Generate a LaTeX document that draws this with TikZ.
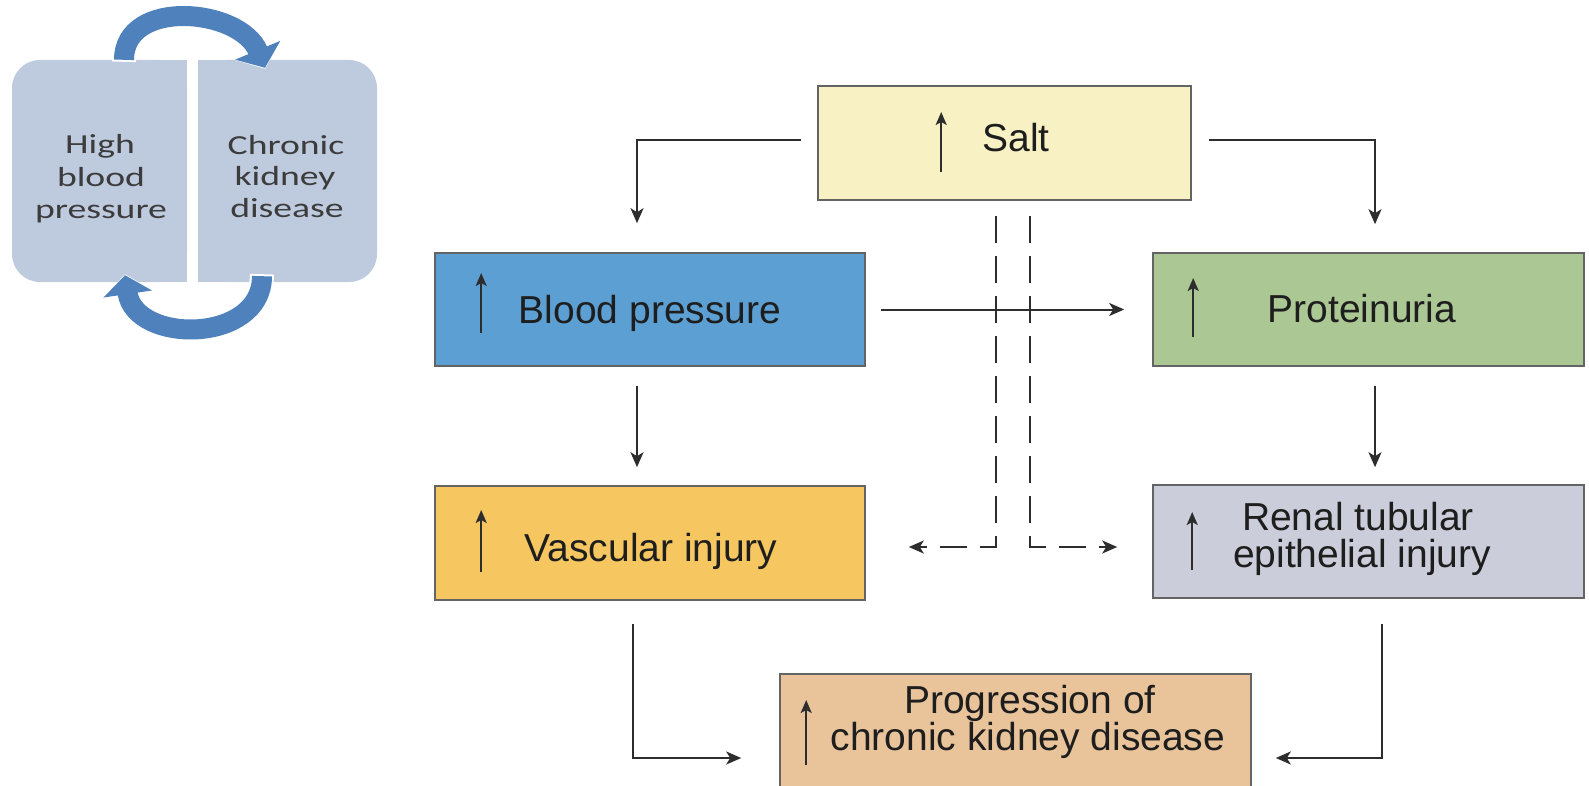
\documentclass[tikz,border=0pt]{standalone}
\usepackage{fontspec}
\setmainfont{Liberation Sans}
\newfontfamily\calfont[FakeStretch=1.37]{Carlito}
\usetikzlibrary{arrows.meta,calc}
\definecolor{saltc}{RGB}{248,241,196}
\definecolor{bpc}{RGB}{92,160,211}
\definecolor{protc}{RGB}{171,200,148}
\definecolor{vascc}{RGB}{246,199,96}
\definecolor{renalc}{RGB}{204,205,218}
\definecolor{progc}{RGB}{233,196,155}
\definecolor{boxline}{RGB}{100,100,100}
\definecolor{connc}{RGB}{45,45,45}
\definecolor{textc}{RGB}{30,30,30}
\definecolor{ckc}{RGB}{190,202,222}
\definecolor{cktext}{RGB}{60,60,60}
\definecolor{cycc}{RGB}{79,129,189}
\begin{document}
\begin{tikzpicture}[x=1pt,y=-1pt,
  box/.style={draw=boxline, line width=1.6pt, rectangle, inner sep=0pt},
  ckbox/.style={fill=ckc, rectangle, rounded corners=28pt, inner sep=0pt},
  conn/.style={draw=connc, line width=2pt, -{Stealth[length=15pt,width=13pt,inset=4pt]}},
  dconn/.style={conn, dash pattern=on 27pt off 13pt},
  upar/.style={draw=connc, line width=2pt, -{Stealth[length=13pt,width=11pt,inset=3pt]}},
  lbl/.style={anchor=base, font=\fontsize{39}{39}\selectfont, text=textc, inner sep=0pt},
  cklbl/.style={anchor=base, font=\calfont\fontsize{27.5}{27.5}\selectfont, text=cktext, inner sep=0pt},
  cycw/.style={draw=white, line width=24pt, -{Triangle[length=22pt,width=54pt]}},
  cyc/.style={draw=cycc, line width=20pt, -{Triangle[length=19pt,width=48pt]}},
]
\clip (0,0) rectangle (1589,786);
\fill[white] (0,0) rectangle (1589,786);

% ---- left cycle diagram ----
\node[ckbox, minimum width=175pt, minimum height=222pt] (hbp) at (99.5,171) {};
\fill[ckc] (hbp.north) rectangle (hbp.south east);
\node[ckbox, minimum width=179pt, minimum height=222pt] (ckd) at (287.5,171) {};
\fill[ckc] (ckd.north west) rectangle (ckd.south);

\node[cklbl] (hbp1) at (100,154) {High};
\node[cklbl] (hbp2) at (101,187) {blood};
\node[cklbl] (hbp3) at (101,219) {pressure};
\node[cklbl] (ckd1) at (286,155) {Chronic};
\node[cklbl] (ckd2) at (285,186) {kidney};
\node[cklbl] (ckd3) at (287,218) {disease};

\draw[cycw] ($(hbp.north)+(24.5,2)$) .. controls ($(hbp.north)+(24.5,-62)$) and ($(ckd.north)+(-47.5,-52)$) .. ($(ckd.north)+(-22.5,9)$);
\draw[cyc] ($(hbp.north)+(24.5,0)$) .. controls ($(hbp.north)+(24.5,-62)$) and ($(ckd.north)+(-47.5,-52)$) .. ($(ckd.north)+(-22.5,8)$);
\draw[cycw] ($(ckd.south)+(-25.5,-8)$) .. controls ($(ckd.south)+(-25.5,62)$) and ($(hbp.south)+(35.5,62)$) .. ($(hbp.south)+(25.5,-8)$);
\draw[cyc] ($(ckd.south)+(-25.5,-6)$) .. controls ($(ckd.south)+(-25.5,62)$) and ($(hbp.south)+(35.5,62)$) .. ($(hbp.south)+(25.5,-7)$);

% ---- main diagram boxes ----
\node[box, fill=saltc, minimum width=373pt, minimum height=114pt] (salt) at (1004.5,143) {};
\node[box, fill=bpc, minimum width=430pt, minimum height=113pt] (bp) at (650,309.5) {};
\node[box, fill=protc, minimum width=431pt, minimum height=113pt] (prot) at (1368.5,309.5) {};
\node[box, fill=vascc, minimum width=430pt, minimum height=114pt] (vasc) at (650,543) {};
\node[box, fill=renalc, minimum width=431pt, minimum height=113pt] (renal) at (1368.5,541.5) {};
\node[box, fill=progc, minimum width=471pt, minimum height=124pt] (prog) at (1015.5,736) {};

% texts
\node[lbl] (saltt) at (1016,152) {Salt};
\node[lbl] (bpt) at (650,323) {Blood pressure};
\node[lbl] (prott) at (1362,322) {Proteinuria};
\node[lbl] (vasct) at (651,561) {Vascular injury};
\node[lbl] (renalt1) at (1358,530) {Renal tubular};
\node[lbl] (renalt2) at (1362,567) {epithelial injury};
\node[lbl] (progt1) at (1030,713) {Progression of};
\node[lbl] (progt2) at (1028,750) {chronic kidney disease};

% up arrows inside boxes
\draw[upar] ($(salt.west)+(124,29)$) -- ($(salt.west)+(124,-31)$);
\draw[upar] ($(bp.west)+(47,23.5)$) -- ($(bp.west)+(47,-36.5)$);
\draw[upar] ($(prot.west)+(41,27.5)$) -- ($(prot.west)+(41,-31.5)$);
\draw[upar] ($(vasc.west)+(47,29)$) -- ($(vasc.west)+(47,-33)$);
\draw[upar] ($(renal.west)+(40,28.5)$) -- ($(renal.west)+(40,-29.5)$);
\draw[upar] ($(prog.west)+(27,29)$) -- ($(prog.west)+(27,-36)$);

% connectors
\draw[conn] ($(salt.west)+(-16,-3)$) -| ($(bp.north)+(-13,-29)$);
\draw[conn] ($(salt.east)+(17,-3)$) -| ($(prot.north)+(6.5,-28)$);
\draw[conn] ($(bp.east)+(15,0)$) -- ($(prot.west)+(-28,0)$);
\draw[conn] ($(bp.south)+(-13,19)$) -- ($(vasc.north)+(-13,-18)$);
\draw[conn] ($(prot.south)+(6.5,19)$) -- ($(renal.north)+(6.5,-17)$);
\draw[conn] ($(vasc.south)+(-17,23)$) |- ($(prog.west)+(-38,22)$);
\draw[conn] ($(renal.south)+(13,25)$) |- ($(prog.east)+(24,22)$);

% dashed connectors
\draw[dconn] ($(salt.south)+(-8.5,15)$) |- ($(vasc.east)+(43,4)$);
\draw[dconn] ($(salt.south)+(25.5,15)$) |- ($(renal.west)+(-35,5.5)$);
\end{tikzpicture}
\end{document}
